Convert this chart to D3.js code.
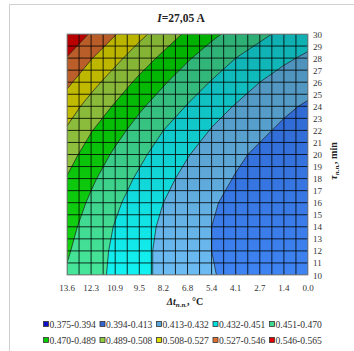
<!DOCTYPE html>
<html><head><meta charset="utf-8">
<script src="https://cdn.jsdelivr.net/npm/d3@7"></script>
<style>
html,body{margin:0;padding:0;background:#fff;}
svg{display:block;font-family:"Liberation Serif","Times New Roman",serif;}
</style></head><body>
<svg id="chart" width="354" height="351"></svg>
<script>
// Δt, °C — columns from left to right
const dtLabels = ["13.6","12.3","10.9","9.5","8.2","6.8","5.4","4.1","2.7","1.4","0.0"];
// τ, min — rows from bottom to top
const tauRows = [10,12,14,16,18,20,22,24,26,28,30];
// τ tick labels on the right axis
const tauTicks = [10,11,12,13,14,15,16,17,18,19,20,21,22,23,24,25,26,27,28,29,30];

// surface values, one array per τ row (columns follow dtLabels)
const z10 = [0.468,0.458,0.447,0.437,0.428,0.420,0.414,0.409,0.405,0.402,0.400];
const z12 = [0.472,0.459,0.448,0.437,0.428,0.420,0.413,0.407,0.402,0.399,0.397];
const z14 = [0.476,0.462,0.450,0.439,0.429,0.421,0.413,0.407,0.402,0.398,0.395];
const z16 = [0.481,0.467,0.454,0.443,0.432,0.423,0.415,0.408,0.403,0.398,0.395];
const z18 = [0.488,0.473,0.460,0.448,0.437,0.427,0.419,0.412,0.405,0.401,0.397];
const z20 = [0.496,0.481,0.467,0.455,0.443,0.433,0.424,0.416,0.410,0.404,0.400];
const z22 = [0.506,0.490,0.476,0.463,0.451,0.441,0.431,0.423,0.416,0.410,0.405];
const z24 = [0.517,0.501,0.487,0.473,0.461,0.450,0.439,0.431,0.423,0.416,0.411];
const z26 = [0.531,0.514,0.499,0.485,0.472,0.460,0.450,0.440,0.432,0.425,0.419];
const z28 = [0.545,0.528,0.513,0.498,0.485,0.472,0.461,0.451,0.443,0.435,0.429];
const z30 = [0.562,0.544,0.528,0.513,0.499,0.486,0.474,0.464,0.455,0.447,0.440];

// band limits and their legend texts
const bandEdges = [0.375,0.394,0.413,0.432,0.451,0.470,0.489,0.508,0.527,0.546,0.565];
const bandLabels = ["0.375-0.394","0.394-0.413","0.413-0.432","0.432-0.451","0.451-0.470",
                    "0.470-0.489","0.489-0.508","0.508-0.527","0.527-0.546","0.546-0.565"];
// swatch colours and shaded surface colours (upper / lower part of the plot)
const bandSwatch = ["#1010c8","#3366d0","#5aa8dc","#00dede","#3ed890","#00cc00","#90d040","#dede00","#e07030","#e00000"];
const bandTop    = ["#0a0aa8","#2a5ec6","#4a8db4","#10aeb0","#2eae74","#00b000","#84b234","#bab400","#b85c28","#b80000"];
const bandBottom = ["#1a1ae8","#3e84f2","#6cbcf4","#12f2f2","#46e69a","#14d614","#98cc46","#d0ca00","#cc6c34","#cc0000"];

const surface = [z10,z12,z14,z16,z18,z20,z22,z24,z26,z28,z30];

const plot = {left: 67, right: 308, top: 34, bottom: 275};

const svg = d3.select("#chart");

// outer chart frame
svg.append("rect").attr("x",9.5).attr("y",4.5).attr("width",360).attr("height",360)
  .attr("fill","none").attr("stroke","#d0d0d0").attr("stroke-width",1);

const nx = dtLabels.length, ny = tauRows.length;
const xCol = d3.scaleLinear().domain([0, nx-1]).range([plot.left, plot.right]);
const yTau = d3.scaleLinear().domain([tauRows[0], tauRows[ny-1]]).range([plot.bottom, plot.top]);
const yRow = d3.scaleLinear().domain([0, ny-1]).range([plot.bottom, plot.top]);

const defs = svg.append("defs");
defs.append("clipPath").attr("id","plotClip").append("rect")
  .attr("x",plot.left).attr("y",plot.top)
  .attr("width",plot.right-plot.left).attr("height",plot.bottom-plot.top);

bandTop.forEach((c,i)=>{
  const g = defs.append("linearGradient").attr("id","band"+i)
    .attr("gradientUnits","userSpaceOnUse")
    .attr("x1",0).attr("y1",plot.top).attr("x2",0).attr("y2",plot.bottom);
  g.append("stop").attr("offset","0").attr("stop-color",c);
  g.append("stop").attr("offset","1").attr("stop-color",bandBottom[i]);
});

// contour bands
const flat = [];
surface.forEach(row => row.forEach(v => flat.push(v)));
const contours = d3.contours().size([nx, ny]).thresholds(bandEdges.slice(0,-1))(flat);

const proj = d3.geoTransform({
  point: function(x, y){ this.stream.point(xCol(x-0.5), yRow(y-0.5)); }
});
const path = d3.geoPath(proj);

const gPlot = svg.append("g").attr("clip-path","url(#plotClip)");
gPlot.selectAll("path.band").data(contours).join("path")
  .attr("class","band")
  .attr("d", path)
  .attr("fill", (d,i)=>"url(#band"+i+")")
  .attr("stroke","#1c1c1c").attr("stroke-width",0.7).attr("stroke-linejoin","round");

// grid: one line per category step and per minute
const colSteps = d3.range(0, nx-0.99, 0.5);
gPlot.selectAll("line.vg").data(colSteps).join("line")
  .attr("x1",d=>xCol(d)).attr("x2",d=>xCol(d))
  .attr("y1",plot.top).attr("y2",plot.bottom)
  .attr("stroke","#000").attr("stroke-opacity",0.8).attr("stroke-width",1);
gPlot.selectAll("line.hg").data(tauTicks).join("line")
  .attr("y1",d=>yTau(d)).attr("y2",d=>yTau(d))
  .attr("x1",plot.left).attr("x2",plot.right)
  .attr("stroke","#000").attr("stroke-opacity",0.8).attr("stroke-width",1);

svg.append("rect").attr("x",plot.left).attr("y",plot.top)
  .attr("width",plot.right-plot.left).attr("height",plot.bottom-plot.top)
  .attr("fill","none").attr("stroke","#9a9a9a").attr("stroke-width",1);

// x axis labels
svg.append("g").selectAll("text").data(dtLabels).join("text")
  .attr("x",(d,i)=>xCol(i)).attr("y",291)
  .attr("text-anchor","middle").attr("font-size",9).attr("fill","#333")
  .text(d=>d);

// y axis labels (right side)
svg.append("g").selectAll("text").data(tauTicks).join("text")
  .attr("x",plot.right+5).attr("y",d=>yTau(d)+3.5)
  .attr("font-size",9).attr("fill","#333")
  .text(d=>d);

// title
const title = svg.append("text").attr("x",181).attr("y",22).attr("text-anchor","middle")
  .attr("font-size",11.5).attr("font-weight","bold").attr("fill","#222");
title.append("tspan").attr("font-style","italic").text("I");
title.append("tspan").text("=27,05 A");

// x axis title
const xt = svg.append("text").attr("x",185).attr("y",305).attr("text-anchor","middle")
  .attr("font-size",10).attr("font-weight","bold").attr("fill","#222");
xt.append("tspan").attr("font-style","italic").text("Δt");
xt.append("tspan").attr("font-style","italic").attr("font-size",7).attr("dy",2).text("п.п.");
xt.append("tspan").attr("dy",-2).text(", °C");

// y axis title, rotated
const yt = svg.append("text").attr("transform","translate(337,161) rotate(-90)")
  .attr("text-anchor","middle").attr("font-size",10).attr("font-weight","bold").attr("fill","#222");
yt.append("tspan").attr("font-style","italic").text("τ");
yt.append("tspan").attr("font-style","italic").attr("font-size",7).attr("dy",2).text("п.п.");
yt.append("tspan").attr("dy",-2).text(", min");

// legend, two rows of five
const leg = svg.append("g");
const legX = [43, 99.5, 156, 212.5, 269], legY = [325, 341];
bandLabels.forEach((lab,i)=>{
  const x = legX[i%5], y = legY[Math.floor(i/5)];
  leg.append("rect").attr("x",x+0.5).attr("y",y-3.5).attr("width",5).attr("height",5)
    .attr("fill",bandSwatch[i]).attr("stroke","#333").attr("stroke-width",0.8);
  leg.append("text").attr("x",x+6.5).attr("y",y+3).attr("font-size",9.6).attr("fill","#333").text(lab);
});
</script>
</body></html>
